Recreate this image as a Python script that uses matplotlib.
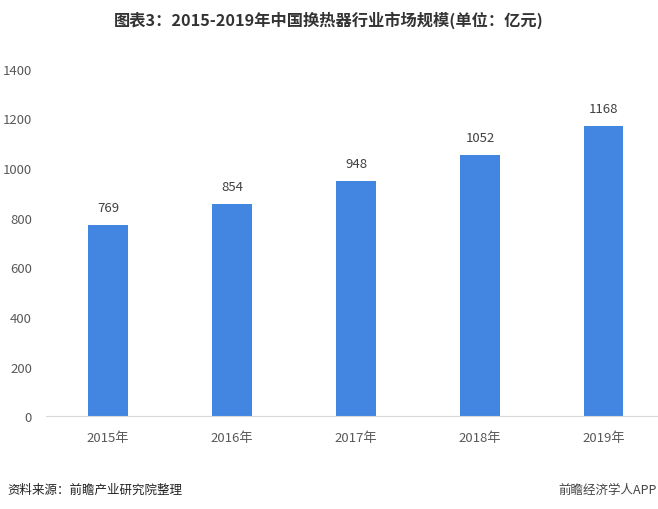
import numpy as np
import matplotlib.pyplot as plt

plt.rcParams['font.family'] = ['Noto Sans CJK SC', 'DejaVu Sans']

years = ['2015年', '2016年', '2017年', '2018年', '2019年']
values = [769, 854, 948, 1052, 1168]
yticks = [0, 200, 400, 600, 800, 1000, 1200, 1400]

fig = plt.figure(figsize=(6.58, 5.1), dpi=100)
# axes runs a bit past the right edge, as in the original
ax = fig.add_axes([0.0699, 0.182, 0.9422, 0.681])

x = np.arange(len(years))
ax.bar(x, values, width=0.315, color='#4286E2', zorder=2)
for xi, v in zip(x, values):
    ax.annotate(str(v), (xi, v), xytext=(0, 8), textcoords='offset points',
                ha='center', va='bottom', fontsize=9.5, color='#404040')

ax.set_xlim(-0.5, len(years) - 0.5)
ax.set_ylim(0, 1400)
ax.set_xticks(x)
ax.set_xticklabels(years)
ax.set_yticks(yticks)
ax.tick_params(axis='both', length=0, labelsize=9.5, colors='#595959')
ax.tick_params(axis='x', pad=11)
ax.tick_params(axis='y', pad=10)
for s in ['top', 'right', 'left']:
    ax.spines[s].set_visible(False)
ax.spines['bottom'].set_color('#D9D9D9')

fig.text(0.5, 0.961, '图表3：2015-2019年中国换热器行业市场规模(单位：亿元)', ha='center', va='center',
         fontsize=11.7, fontweight='bold', color='#333333')
fig.text(0.012, 0.039, '资料来源：前瞻产业研究院整理', ha='left', va='center', fontsize=9, color='#222222')
fig.text(0.998, 0.039, '前瞻经济学人APP', ha='right', va='center', fontsize=9, color='#444444')

fig.savefig('out.png', dpi=100)
